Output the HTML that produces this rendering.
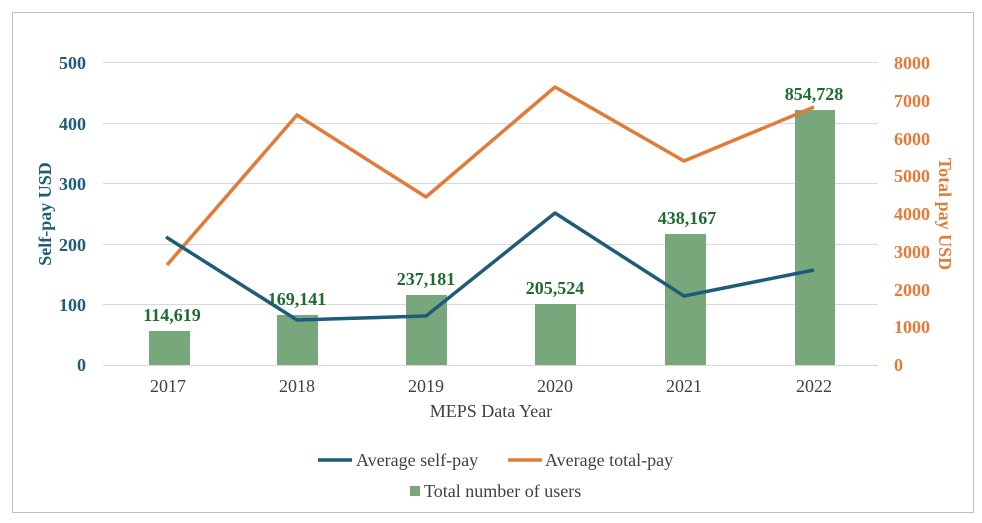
<!DOCTYPE html>
<html><head><meta charset="utf-8"><style>
body{margin:0;background:#fff;}
svg{display:block;font-family:"Liberation Serif",serif;}
</style></head><body>
<svg width="982" height="523" viewBox="0 0 982 523">
<rect x="12.5" y="12.5" width="961" height="500" fill="#fff" stroke="#bfbfbf"/>
<g stroke="#d9d9d9" stroke-width="1">
<line x1="103" y1="62.5" x2="878" y2="62.5"/>
<line x1="103" y1="123.5" x2="878" y2="123.5"/>
<line x1="103" y1="183.5" x2="878" y2="183.5"/>
<line x1="103" y1="244.5" x2="878" y2="244.5"/>
<line x1="103" y1="304.5" x2="878" y2="304.5"/>
<line x1="103" y1="365.5" x2="878" y2="365.5"/>
</g>
<g fill="#78a77c">
<rect x="149" y="331" width="41" height="34"/>
<rect x="277" y="315" width="41" height="50"/>
<rect x="406" y="295" width="41" height="70"/>
<rect x="535" y="304" width="41" height="61"/>
<rect x="665" y="234" width="41" height="131"/>
<rect x="795" y="110" width="40" height="255"/>
</g>
<polyline fill="none" stroke="#e07b39" stroke-width="3.5" stroke-linejoin="round" points="167,265 297,115 426,197 555,87 684,161 814,107"/>
<polyline fill="none" stroke="#1f5c7a" stroke-width="3.5" stroke-linejoin="round" points="166,237 297,320 426,316 555,213 684,296 814,270"/>
<g font-weight="bold" font-size="18" fill="#1e6b30" text-anchor="middle">
<text x="172" y="321">114,619</text>
<text x="297" y="305">169,141</text>
<text x="426" y="285">237,181</text>
<text x="555" y="294">205,524</text>
<text x="687" y="224">438,167</text>
<text x="814" y="100">854,728</text>
</g>
<g font-weight="bold" font-size="18" fill="#1f5c7a" text-anchor="end">
<text x="86" y="69">500</text><text x="86" y="130">400</text><text x="86" y="190">300</text>
<text x="86" y="251">200</text><text x="86" y="311">100</text><text x="86" y="371">0</text>
</g>
<text transform="translate(51,214) rotate(-90)" font-weight="bold" font-size="18" fill="#1f5c7a" text-anchor="middle">Self-pay USD</text>
<g font-weight="bold" font-size="18" fill="#e07b39" text-anchor="start">
<text x="894" y="69">8000</text><text x="894" y="107">7000</text><text x="894" y="145">6000</text>
<text x="894" y="182">5000</text><text x="894" y="220">4000</text><text x="894" y="258">3000</text>
<text x="894" y="296">2000</text><text x="894" y="333">1000</text><text x="894" y="371">0</text>
</g>
<text transform="translate(939,214) rotate(90)" font-weight="bold" font-size="18" fill="#e07b39" text-anchor="middle">Total pay USD</text>
<g font-size="18" fill="#404040" text-anchor="middle">
<text x="168" y="392">2017</text><text x="297" y="392">2018</text><text x="426" y="392">2019</text>
<text x="555" y="392">2020</text><text x="684" y="392">2021</text><text x="814" y="392">2022</text>
<text x="491" y="417">MEPS Data Year</text>
</g>
<line x1="318" y1="460" x2="352" y2="460" stroke="#1f5c7a" stroke-width="3.5"/>
<text x="356" y="466" font-size="18" fill="#404040">Average self-pay</text>
<line x1="508" y1="460" x2="542" y2="460" stroke="#e07b39" stroke-width="3.5"/>
<text x="545" y="466" font-size="18" fill="#404040">Average total-pay</text>
<rect x="410" y="486" width="10" height="10" fill="#78a77c"/>
<text x="424" y="497" font-size="18" fill="#404040">Total number of users</text>
</svg>
</body></html>
